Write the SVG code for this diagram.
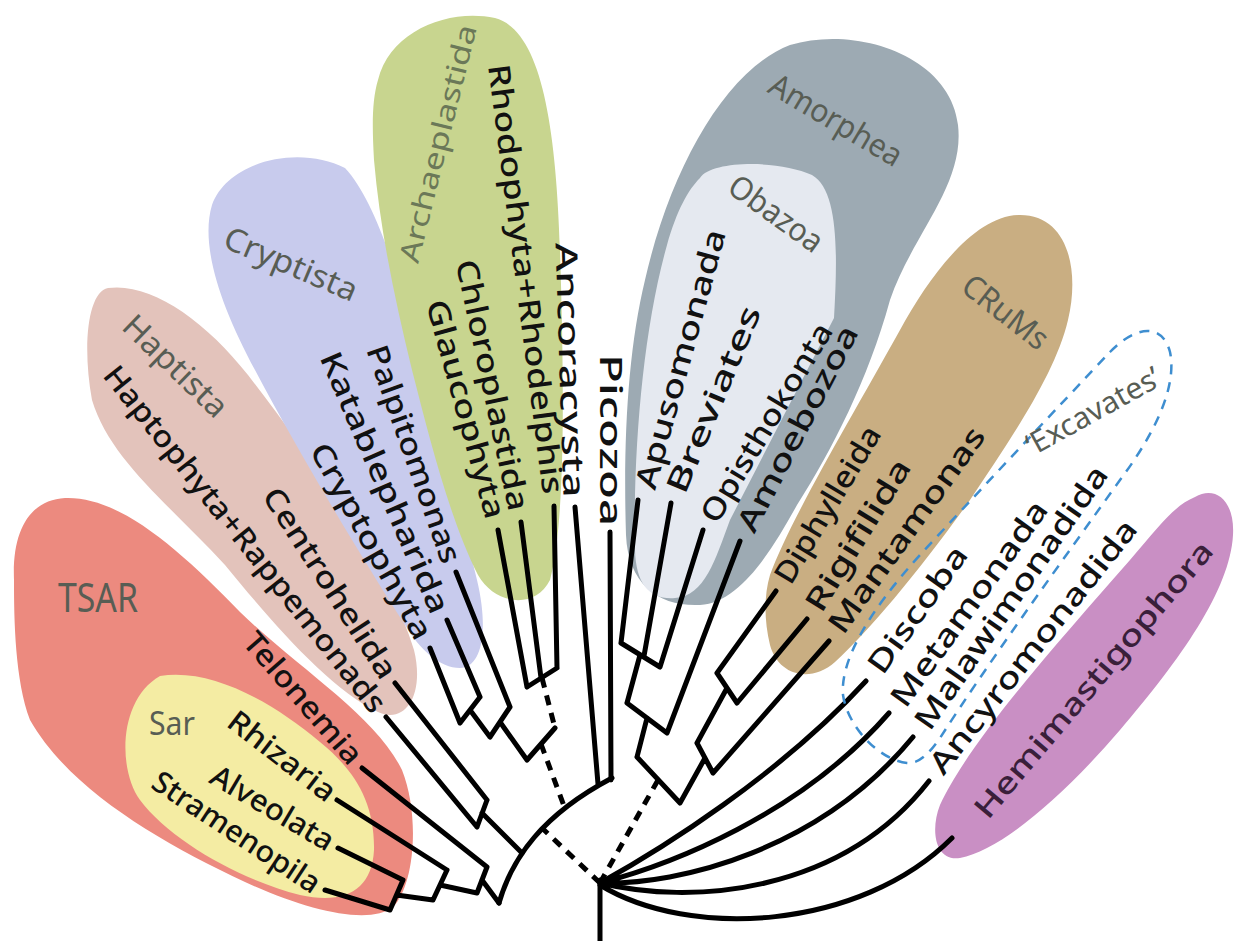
<svg xmlns="http://www.w3.org/2000/svg" width="1235" height="941" viewBox="0 0 1235 941">
<style>
.lbl{font-family:"Noto Sans","DejaVu Sans",sans-serif;font-size:30px;font-weight:500;fill:#111;}
.grp{font-family:"Noto Sans","DejaVu Sans",sans-serif;font-weight:400;fill:#585d54;}
.br{fill:none;stroke:#000;stroke-width:5;stroke-linecap:round;stroke-linejoin:round;}
.dash{fill:none;stroke:#000;stroke-width:5;stroke-dasharray:10 8;}
</style>
<rect width="1235" height="941" fill="#fff"/>

<g id="haptista">
<path d="M108,288 C150,282 205,320 248,375 C310,455 390,570 414,650 C425,695 405,725 378,712 C330,690 270,620 225,565 C170,505 110,460 92,400 C82,345 88,292 108,288 Z" fill="#e3c3bb"/>
<text class="grp" font-size="32" text-anchor="middle" dy=".35em" textLength="132" lengthAdjust="spacingAndGlyphs" transform="translate(175.5 366) rotate(44)">Haptista</text>
<text class="lbl" text-anchor="middle" dy=".35em" textLength="434" lengthAdjust="spacingAndGlyphs" transform="translate(245 539) rotate(51.5)">Haptophyta+Rappemonads</text>
<text class="lbl" text-anchor="middle" dy=".35em" textLength="221" lengthAdjust="spacingAndGlyphs" transform="translate(330 583) rotate(57.2)">Centrohelida</text>
</g>

<g id="cryptista">
<path d="M212,205 C228,160 300,145 345,168 C375,200 400,280 418,350 C435,420 458,500 477,580 C490,635 480,668 460,668 C440,668 420,650 405,625 C360,555 300,455 255,370 C220,305 200,245 212,205 Z" fill="#c8cbed"/>
<text class="grp" font-size="32" text-anchor="middle" dy=".35em" textLength="142" lengthAdjust="spacingAndGlyphs" transform="translate(291 264) rotate(23)">Cryptista</text>
<text class="lbl" text-anchor="middle" dy=".35em" textLength="229" lengthAdjust="spacingAndGlyphs" transform="translate(414 454) rotate(70.6)">Palpitomonas</text>
<text class="lbl" text-anchor="middle" dy=".35em" textLength="282" lengthAdjust="spacingAndGlyphs" transform="translate(385 482.5) rotate(66.6)">Katablepharida</text>
<text class="lbl" text-anchor="middle" dy=".35em" textLength="220" lengthAdjust="spacingAndGlyphs" transform="translate(371.5 541) rotate(61)">Cryptophyta</text>
</g>

<g id="archaeplastida">
<path d="M378,80 C390,30 450,8 495,18 C540,30 556,120 560,250 C564,380 566,520 550,580 C535,610 495,605 478,575 C450,520 430,440 412,370 C395,300 380,230 374,160 C372,125 372,100 378,80 Z" fill="#c8d58f"/>
<text class="grp" font-size="28" style="fill:#6b7858" text-anchor="middle" dy=".35em" textLength="244" lengthAdjust="spacingAndGlyphs" transform="translate(438 143.5) rotate(-76)">Archaeplastida</text>
<text class="lbl" text-anchor="middle" dy=".35em" textLength="226" lengthAdjust="spacingAndGlyphs" transform="translate(466 409) rotate(74.5)">Glaucophyta</text>
<text class="lbl" text-anchor="middle" dy=".35em" textLength="256" lengthAdjust="spacingAndGlyphs" transform="translate(492.5 385) rotate(78)">Chloroplastida</text>
<text class="lbl" text-anchor="middle" dy=".35em" textLength="433" lengthAdjust="spacingAndGlyphs" transform="translate(526 279) rotate(82.7)">Rhodophyta+Rhodelphis</text>
</g>

<g id="tsar">
<path d="M14,580 C12,530 30,500 65,498 C120,496 180,550 240,612 C300,670 375,715 402,770 C420,815 415,885 393,907 C370,925 310,912 245,882 C160,842 70,790 30,720 C15,680 14,620 14,580 Z" fill="#ec8a7f"/>
<text class="grp" font-size="40" text-anchor="middle" dy=".35em" textLength="80" lengthAdjust="spacingAndGlyphs" transform="translate(98 598)">TSAR</text>
<text class="lbl" text-anchor="middle" dy=".35em" textLength="164" lengthAdjust="spacingAndGlyphs" transform="translate(303 698) rotate(49)">Telonemia</text>
</g>

<g id="sar">
<path d="M160,676 C210,668 270,700 320,742 C352,768 375,800 374,850 C372,890 345,905 300,895 C240,880 170,840 140,800 C118,770 118,700 160,676 Z" fill="#f4eca3"/>
<text class="grp" font-size="32" text-anchor="middle" dy=".35em" textLength="46" lengthAdjust="spacingAndGlyphs" transform="translate(172 724)">Sar</text>
<text class="lbl" text-anchor="middle" dy=".35em" textLength="128" lengthAdjust="spacingAndGlyphs" transform="translate(282 756) rotate(37.7)">Rhizaria</text>
<text class="lbl" text-anchor="middle" dy=".35em" textLength="138" lengthAdjust="spacingAndGlyphs" transform="translate(272.5 808) rotate(30.5)">Alveolata</text>
<text class="lbl" text-anchor="middle" dy=".35em" textLength="195" lengthAdjust="spacingAndGlyphs" transform="translate(236.5 832) rotate(33.5)">Stramenopila</text>
</g>

<g id="ancoracysta">
<text class="lbl" text-anchor="middle" dy=".35em" textLength="255" lengthAdjust="spacingAndGlyphs" transform="translate(570 370) rotate(88.2)">Ancoracysta</text>
</g>

<g id="picozoa">
<text class="lbl" text-anchor="middle" dy=".35em" textLength="172" lengthAdjust="spacingAndGlyphs" transform="translate(610.5 440) rotate(90)">Picozoa</text>
</g>

<g id="amorphea">
<path d="M645,280 C670,170 725,70 790,45 C855,25 950,55 958,125 C965,185 912,235 890,300 C868,380 832,450 797,505 C772,550 740,603 700,605 C660,607 628,585 626,535 C623,440 628,350 645,280 Z" fill="#9daab3"/>
<text class="grp" font-size="32" text-anchor="middle" dy=".35em" textLength="149" lengthAdjust="spacingAndGlyphs" transform="translate(836 120) rotate(30.7)">Amorphea</text>
<text class="lbl" text-anchor="middle" dy=".35em" textLength="228" lengthAdjust="spacingAndGlyphs" transform="translate(797.5 428.5) rotate(-62.6)">Amoebozoa</text>
</g>

<g id="obazoa">
<path d="M700,178 C712,160 780,160 812,175 C838,190 838,250 834,318 L730,520 C715,560 705,596 675,598 C650,600 636,585 635,550 C633,450 643,330 667,245 C677,210 688,190 700,178 Z" fill="#e5e9f0"/>
<text class="grp" font-size="32" text-anchor="middle" dy=".35em" textLength="108" lengthAdjust="spacingAndGlyphs" transform="translate(776 213.5) rotate(35.6)">Obazoa</text>
<text class="lbl" text-anchor="middle" dy=".35em" textLength="268" lengthAdjust="spacingAndGlyphs" transform="translate(680.5 359) rotate(-74.6)">Apusomonada</text>
<text class="lbl" text-anchor="middle" dy=".35em" textLength="200" lengthAdjust="spacingAndGlyphs" transform="translate(713.5 399.5) rotate(-67.4)">Breviates</text>
<text class="lbl" text-anchor="middle" dy=".35em" textLength="227" lengthAdjust="spacingAndGlyphs" transform="translate(766.5 422.5) rotate(-59)">Opisthokonta</text>
</g>

<g id="crums">
<path d="M770,575 C790,520 850,420 900,330 C930,275 975,215 1020,215 C1068,215 1080,270 1068,320 C1055,375 1010,440 970,500 C920,570 870,630 835,662 C810,684 778,675 770,645 C764,620 764,595 770,575 Z" fill="#c9ae82"/>
<text class="grp" font-size="32" text-anchor="middle" dy=".35em" textLength="100" lengthAdjust="spacingAndGlyphs" transform="translate(1005.5 312) rotate(38)">CRuMs</text>
<text class="lbl" text-anchor="middle" dy=".35em" textLength="178" lengthAdjust="spacingAndGlyphs" transform="translate(827.5 504.5) rotate(-59)">Diphylleida</text>
<text class="lbl" text-anchor="middle" dy=".35em" textLength="173" lengthAdjust="spacingAndGlyphs" transform="translate(858 535) rotate(-58.4)">Rigifilida</text>
<text class="lbl" text-anchor="middle" dy=".35em" textLength="246" lengthAdjust="spacingAndGlyphs" transform="translate(906.5 530) rotate(-54.3)">Mantamonas</text>
</g>

<g id="hemimastigophora">
<path d="M1195,497 C1215,485 1235,500 1233,535 C1230,590 1180,660 1120,730 C1060,800 1000,850 960,858 C935,862 930,830 940,805 C970,740 1060,640 1130,560 C1160,525 1175,505 1195,497 Z" fill="#c98fc4"/>
<text class="lbl" style="fill:#3a1f3a" text-anchor="middle" dy=".35em" textLength="352" lengthAdjust="spacingAndGlyphs" transform="translate(1093.5 679.5) rotate(-49.8)">Hemimastigophora</text>
</g>

<g id="ancyromonadida">
<text class="lbl" text-anchor="middle" dy=".35em" textLength="315" lengthAdjust="spacingAndGlyphs" transform="translate(1033 646.5) rotate(-51.6)">Ancyromonadida</text>
</g>

<g id="connectors">
<path class="br" d="M325,890 L390,910 M338,848 L403,880 M390,910 L403,880 M396.5,895 L433,900 M337,800 L447,870 M433,900 L447,870 M440,885 L477,893 M362,768 L487,867 M477,893 L487,867 M482,880 L499,903"/>
<path class="br" d="M386,717 L477,827 M395,683 L487,800 M477,827 L487,800 M482,813 L522,853"/>
<path class="br" d="M430,648 L460,723 M447,620 L480,697 M460,723 L480,697 M470,710 L490,737 M456,572 L510,707 M490,737 L510,707 M500,722 L527,760 M527,760 L555,728"/>
<path class="br" d="M498,530 L527,687 M521,522 L541,678 M554,506 L557,668 M527,687 L557,668"/>
<path class="dash" d="M542,678 L555,728 M541,744 L564,806"/>
<path class="br" d="M575,507 L598,784 M610,532 L611,780"/>
<path class="br" stroke-width="7" d="M499,903 C512,858 542,815 612,778"/>
<path class="dash" d="M600,883 L542,828"/>
<path class="br" d="M638,500 L621,643 M671,503 L644,656 M621,643 L660,667 M703,530 L660,667 M640,655 L627,703 M627,703 L667,733 M740,541 L667,733 M647,718 L637,757 M637,757 L680,803 M680,803 L705,758 M697,743 L713,773 M829,641 L713,773 M697,743 L727,688 M717,673 L737,703 M776,591 L717,673 M807,619 L737,703"/>
<path class="dash" d="M600,883 L658,780"/>
<path class="br" stroke-width="5.5" d="M600,883 C660,850 780,775 866,681 M600,883 C670,865 800,815 889,713 M600,883 C680,885 820,850 913,737 M600,883 C690,905 840,895 929,781 M600,885 C690,940 860,930 952,838"/>
<path class="br" stroke-width="7" d="M600,880 L600,941"/>
</g>

<g id="excavates">
<path d="M907,763 C880,760 848,728 843,695 C840,660 870,610 920,555 C980,490 1060,405 1110,352 C1135,326 1162,322 1170,352 C1178,390 1150,440 1120,480 C1070,550 990,660 940,738 C930,752 920,764 907,763 Z" fill="none" stroke="#3e8ed0" stroke-width="2.5" stroke-dasharray="10 8"/>
<text class="grp" font-size="30" text-anchor="middle" dy=".35em" textLength="149" lengthAdjust="spacingAndGlyphs" transform="translate(1093 411) rotate(-29)">‘Excavates’</text>
<text class="lbl" text-anchor="middle" dy=".35em" textLength="149" lengthAdjust="spacingAndGlyphs" transform="translate(917.5 609.5) rotate(-54.5)">Discoba</text>
<text class="lbl" text-anchor="middle" dy=".35em" textLength="246" lengthAdjust="spacingAndGlyphs" transform="translate(969 603.5) rotate(-54.2)">Metamonada</text>
<text class="lbl" text-anchor="middle" dy=".35em" textLength="314" lengthAdjust="spacingAndGlyphs" transform="translate(1011 597.5) rotate(-55.1)">Malawimonadida</text>
</g>
</svg>
